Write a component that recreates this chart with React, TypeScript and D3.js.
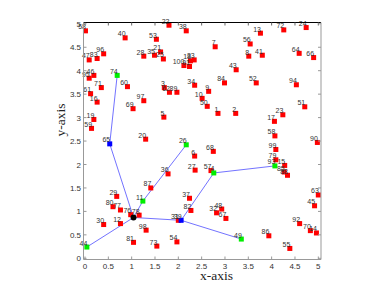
import React from "react";
import * as d3 from "d3";

const W = 390;
const H = 293;

// sensor nodes: label, x, y
const redLabels = ["58","40","22","38","53","96","83","47","28","35","21","25","100","18","33","91","95","46","71","60","61","3","62","89","34","10","50","9","13","72","24","7","56","8","41","64","66","43","84","52","94","51","1","2","23","17","58","90","68","99","79","15","85","88","57","16","97","69","19","59","5","20","6","27","36","87","29","37","80","77","82","76","78","30","12","31","98","81","73","54","63","45","32","48","67","92","70","14","86","55"];
const redX = [0.01,0.86,1.80,2.17,1.53,0.40,0.26,0.09,1.26,1.49,1.62,1.68,2.12,2.26,2.34,2.24,0.09,0.19,0.35,0.91,0.12,1.70,1.81,1.97,2.35,2.51,2.62,2.65,3.76,4.26,4.74,2.79,3.54,3.51,3.80,4.59,4.90,3.24,2.99,3.67,4.53,4.71,2.85,3.23,4.24,4.06,4.07,4.98,2.75,4.09,4.09,4.28,4.27,4.34,2.70,0.26,1.26,1.03,0.19,0.14,1.69,1.30,2.35,2.36,1.78,1.41,0.68,2.24,0.60,0.76,2.27,0.98,1.16,0.40,0.76,2.00,1.31,1.04,1.54,1.97,5.00,4.92,2.82,2.93,3.02,4.60,4.83,4.96,3.94,4.39];
const redY = [4.85,4.70,4.97,4.85,4.67,4.36,4.26,4.23,4.31,4.33,4.40,4.25,4.11,4.21,4.23,4.09,3.84,3.90,3.64,3.66,3.51,3.64,3.54,3.54,3.69,3.41,3.24,3.56,4.80,4.87,4.92,4.51,4.57,4.31,4.33,4.37,4.28,4.02,3.74,3.74,3.70,3.23,3.09,3.09,3.06,2.92,2.61,2.47,2.28,2.32,2.10,1.98,1.84,1.77,1.87,3.33,3.36,3.19,2.96,2.77,3.01,2.54,2.18,1.88,1.80,1.50,1.32,1.28,1.10,1.03,1.02,0.93,0.92,0.72,0.74,0.81,0.60,0.34,0.26,0.35,1.35,1.12,0.97,1.05,0.85,0.74,0.59,0.54,0.48,0.21];

// cluster heads (green)
const greenLabels = ["74","26","11","93","4","49","44"];
const greenX = [0.69,2.17,1.24,4.07,2.76,3.35,0.04];
const greenY = [3.90,2.42,1.22,1.97,1.82,0.41,0.24];

// relay nodes (blue)
const blueLabels = ["65","39"];
const blueX = [0.53,2.06];
const blueY = [2.44,0.81];

// sink
const sinkX = 1.04;
const sinkY = 0.87;

// routing links (from label -> to label, "S" = sink)
const linkFrom = ["74","65","26","11","44","39","49","4","93"];
const linkTo = ["65","S","11","S","S","S","39","39","4"];

const xTicks = [0,0.5,1,1.5,2,2.5,3,3.5,4,4.5,5];
const yTicks = [0,0.5,1,1.5,2,2.5,3,3.5,4,4.5,5];

export default function App() {
  const x = d3.scaleLinear().domain([0, 5]).range([85, 318.3]);
  const y = d3.scaleLinear().domain([0, 5]).range([258.3, 23.8]);
  const left = 83.5, right = 321, top = 22.5, bottom = 259.5;

  const pos: Record<string, [number, number]> = { S: [x(sinkX), y(sinkY)] };
  greenLabels.forEach((l, i) => (pos[l] = [x(greenX[i]), y(greenY[i])]));
  blueLabels.forEach((l, i) => (pos[l] = [x(blueX[i]), y(blueY[i])]));

  const line = d3.line();
  const ms = 5;
  const labelFont = "'Liberation Sans', Arial, sans-serif";

  const nodes = [
    ...redLabels.map((l, i) => ({ l, x: x(redX[i]), y: y(redY[i]), c: "#ff0000" })),
    ...greenLabels.map((l, i) => ({ l, x: x(greenX[i]), y: y(greenY[i]), c: "#00ee00" })),
    ...blueLabels.map((l, i) => ({ l, x: x(blueX[i]), y: y(blueY[i]), c: "#0000ff" })),
  ];

  return (
    <svg width={W} height={H} style={{ position: "absolute", left: 0, top: 0, background: "#fff" }}>
      <rect x={0} y={0} width={W} height={H} fill="#fff" />
      {/* links */}
      {linkFrom.map((f, i) => (
        <path key={"l" + i} d={line([pos[f], pos[linkTo[i]]]) || ""} stroke="#7373ff" strokeWidth={1} fill="none" />
      ))}
      {/* nodes */}
      {nodes.map((n, i) => (
        <g key={"n" + i}>
          <rect x={n.x - ms / 2} y={n.y - ms / 2} width={ms} height={ms} fill={n.c} />
          <text x={n.x + 0.5} y={n.y - 1.5} textAnchor="end" fontSize={7} fill="#333" fontFamily={labelFont}>{n.l}</text>
        </g>
      ))}
      <circle cx={pos.S[0]} cy={pos.S[1]} r={3} fill="#000" />
      {/* axes box */}
      <line x1={left} x2={right} y1={top} y2={top} stroke="#000" strokeWidth={1.2} />
      <line x1={left} x2={left} y1={top} y2={bottom} stroke="#999" strokeWidth={1} />
      <line x1={right} x2={right} y1={top} y2={bottom} stroke="#999" strokeWidth={1} />
      <line x1={left} x2={right} y1={bottom} y2={bottom} stroke="#999" strokeWidth={1} />
      {xTicks.map((t, i) => (
        <g key={"xt" + i}>
          <line x1={x(t)} x2={x(t)} y1={bottom} y2={bottom - 3} stroke="#999" />
          <line x1={x(t)} x2={x(t)} y1={top} y2={top + 3} stroke="#666" />
          <text x={x(t)} y={269} textAnchor="middle" fontSize={8} fill="#333" fontFamily={labelFont}>{String(t)}</text>
        </g>
      ))}
      {yTicks.map((t, i) => (
        <g key={"yt" + i}>
          <line x1={left} x2={left + 3} y1={y(t)} y2={y(t)} stroke="#999" />
          <line x1={right} x2={right - 3} y1={y(t)} y2={y(t)} stroke="#999" />
          <text x={81} y={y(t) + 3} textAnchor="end" fontSize={8} fill="#333" fontFamily={labelFont}>{String(t)}</text>
        </g>
      ))}
      <text x={216.5} y={279.5} textAnchor="middle" fontSize={13.5} fill="#222" fontFamily="'Liberation Serif', 'Times New Roman', serif">x-axis</text>
      <text transform={`translate(65,120) rotate(-90)`} textAnchor="middle" fontSize={13.5} fill="#222" fontFamily="'Liberation Serif', 'Times New Roman', serif">y-axis</text>
    </svg>
  );
}
